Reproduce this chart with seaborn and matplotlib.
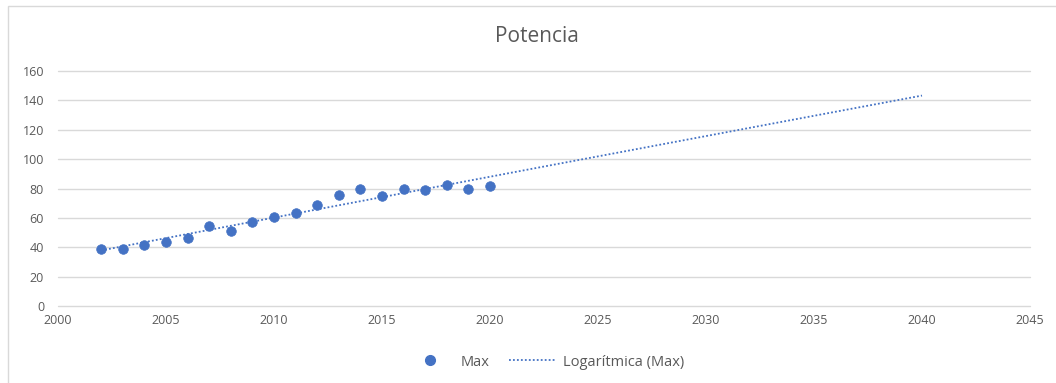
import numpy as np
import pandas as pd
import matplotlib
matplotlib.use("Agg")
import matplotlib.pyplot as plt
from matplotlib.patches import Rectangle
from matplotlib.lines import Line2D
import seaborn as sns

years = [2002, 2003, 2004, 2005, 2006, 2007, 2008, 2009, 2010, 2011,
         2012, 2013, 2014, 2015, 2016, 2017, 2018, 2019, 2020]
max_power = [39, 39, 41.5, 43.6, 46, 54.5, 51, 57, 60.6, 63,
             68.8, 75.6, 79.6, 75, 79.6, 79, 82.4, 79.6, 81.7]
trend_end_year = 2040
x_ticks = [2000, 2005, 2010, 2015, 2020, 2025, 2030, 2035, 2040, 2045]
y_ticks = [0, 20, 40, 60, 80, 100, 120, 140, 160]

blue = "#4472C4"
text_gray = "#595959"
grid_gray = "#D9D9D9"

sns.set_theme(style="white")
plt.rcParams["font.family"] = ["Open Sans", "DejaVu Sans"]

df = pd.DataFrame({"year": years, "max": max_power})

# Logarithmic trendline: y = a*ln(x) + b, extended to the forecast year
a, b = np.polyfit(np.log(df["year"]), df["max"], 1)
trend_x = np.linspace(years[0], trend_end_year, 200)
trend = pd.DataFrame({"year": trend_x, "fit": a * np.log(trend_x) + b})

fig = plt.figure(figsize=(10.56, 3.83), dpi=100)
ax = fig.add_axes([58 / 1056, 1 - 306 / 383, (1030 - 58) / 1056, (306 - 71) / 383])

# chart frame
fig.patches.append(Rectangle((8 / 1056, -0.1), 1.2, 1 - 6 / 383 + 0.1,
                             transform=fig.transFigure, fill=False,
                             edgecolor="#D9D9D9", linewidth=1.0, zorder=0))

# horizontal gridlines, including the baseline at zero
for yv in y_ticks:
    ax.axhline(yv, color=grid_gray, linewidth=1.0, zorder=0, clip_on=False)

sns.lineplot(data=trend, x="year", y="fit", ax=ax, color=blue,
             linestyle=(0, (1, 1.2)), linewidth=1.3, zorder=2)
sns.scatterplot(data=df, x="year", y="max", ax=ax, color=blue, s=48,
                edgecolor=blue, linewidth=0.5, zorder=3)

ax.set_xlim(2000, 2045)
ax.set_ylim(0, 160)
ax.set_xticks(x_ticks)
ax.set_yticks(y_ticks)
ax.set_xlabel("")
ax.set_ylabel("")
ax.grid(False)
for side in ["top", "right", "left", "bottom"]:
    ax.spines[side].set_visible(False)
ax.tick_params(axis="both", length=0, labelsize=9, colors=text_gray)
ax.tick_params(axis="y", pad=10)
ax.tick_params(axis="x", pad=6)

fig.text(537 / 1056, 1 - 37 / 383, "Potencia", ha="center", va="center",
         fontsize=15, color=text_gray)

handles = [
    Line2D([], [], marker="o", linestyle="none", color=blue, markersize=7),
    Line2D([], [], color=blue, linestyle=(0, (1, 1.2)), linewidth=1.3),
]
fig.legend(handles, ["Max", "Logarítmica (Max)"], loc="center",
           bbox_to_anchor=(0.5165, 1 - 362 / 383), ncol=2, frameon=False,
           fontsize=10.5, labelcolor=text_gray, handlelength=3.2,
           columnspacing=1.3, handletextpad=0.5)

fig.savefig("out.png", dpi=100, facecolor="white")
